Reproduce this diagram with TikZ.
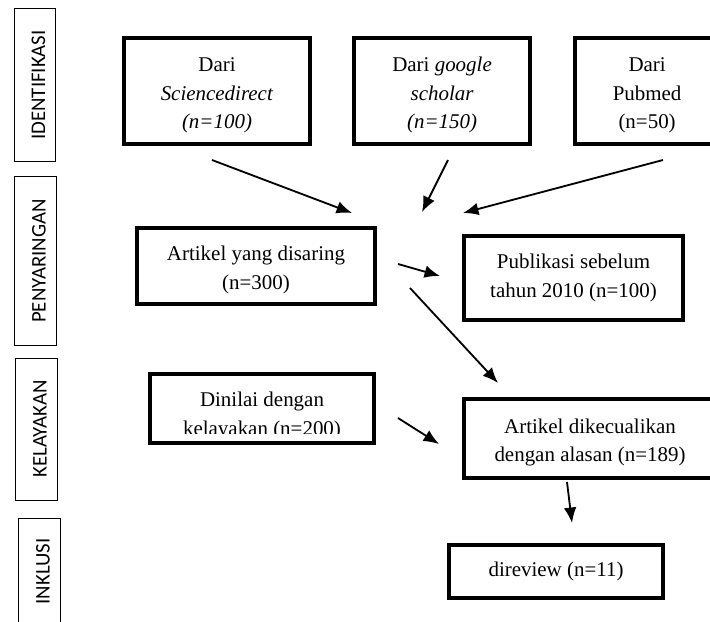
\documentclass[tikz,border=0pt]{standalone}
\usepackage{fontspec}
\setmainfont{Liberation Serif}
\newfontfamily\phasefont{Carlito}
\usetikzlibrary{positioning,arrows.meta}
\newcommand{\lowstrut}{\rule{0pt}{16pt}}

\begin{document}
\begin{tikzpicture}[x=0.025cm, y=-0.025cm,
            block/.style={rectangle, draw, line width=2.8pt, align=center, inner sep=2pt, font=\fontsize{14.9}{20.6}\selectfont},
            phase/.style={rectangle, draw, line width=0.7pt, rotate=90, inner sep=0pt, text height=15pt, text depth=0pt, font=\phasefont\fontsize{14.8}{18}\selectfont},
            arrow/.style={-{Latex[length=11pt,width=9pt]}, line width=1.3pt}]

        \clip (0,0) rectangle (710,621);

        % phases on the left
        \node[phase, minimum width=3.8cm, minimum height=1.025cm] (ident) at (34.5,85) {IDENTIFIKASI};
        \node[phase, minimum width=4.2cm, minimum height=1.05cm] (peny) at (35,261) {PENYARINGAN};
        \node[phase, minimum width=3.55cm, minimum height=1.05cm] (kel) at (36,429) {KELAYAKAN};
        \node[phase, minimum width=2.675cm, minimum height=1.05cm] (inkl) at (39,571.5) {INKLUSI};

        % sources
        \node[block, minimum width=4.65cm, minimum height=2.65cm] (sd) at (217,91) {\lowstrut Dari\\\textit{Sciencedirect}\\\textit{(n=100)}};
        \node[block, minimum width=4.4cm, minimum height=2.65cm, right of=sd, node distance=5.625cm] (gs) {\lowstrut Dari \textit{google}\\\textit{scholar}\\\textit{(n=150)}};
        \node[block, minimum width=3.6cm, minimum height=2.65cm, right of=gs, node distance=5.125cm] (pm) {\lowstrut Dari\\Pubmed\\(n=50)};

        \node[block, minimum width=5.95cm, minimum height=1.9cm] (saring) at (256,266) {\lowstrut Artikel yang disaring\\(n=300)};
        \node[block, minimum width=5.475cm, minimum height=2.1cm] (publikasi) at (573.5,278) {Publikasi sebelum\\tahun 2010 (n=100)};
        \node[block, minimum width=5.6cm, minimum height=1.725cm] (dinilai) at (262,408.5) {};
        \begin{scope}
            \clip (150,374) rectangle (374,433);
            \node[block, draw=none] (dinilaitext) at (262,416) {Dinilai dengan\\kelayakan (n=200)};
        \end{scope}
        \node[block, minimum width=6.3cm, minimum height=1.975cm] (kecuali) at (590,438.5) {\lowstrut Artikel dikecualikan\\dengan alasan (n=189)};
        \node[block, minimum width=5.35cm, minimum height=1.325cm] (direview) at (556,571.5) {direview (n=11)};

        % loose arrow ends
        \coordinate (sd-out) at (212,160);
        \coordinate (gs-out) at (448,160);
        \coordinate (pm-out) at (663,160);
        \coordinate (sd-in) at (352,213);
        \coordinate (gs-in) at (422,212);
        \coordinate (pm-in) at (463,213);
        \coordinate (saring-out1) at (398,264);
        \coordinate (publikasi-in) at (440,276);
        \coordinate (saring-out2) at (410,288);
        \coordinate (kecuali-in1) at (498,383);
        \coordinate (dinilai-out) at (398,418);
        \coordinate (kecuali-in2) at (439,444);
        \coordinate (kecuali-out) at (567,482);
        \coordinate (direview-in) at (572,523);

        \draw[arrow] (sd-out) -- (sd-in);
        \draw[arrow] (gs-out) -- (gs-in);
        \draw[arrow] (pm-out) -- (pm-in);
        \draw[arrow] (saring-out1) -- (publikasi-in);
        \draw[arrow] (saring-out2) -- (kecuali-in1);
        \draw[arrow] (dinilai-out) -- (kecuali-in2);
        \draw[arrow] (kecuali-out) -- (direview-in);
    \end{tikzpicture}
\end{document}
